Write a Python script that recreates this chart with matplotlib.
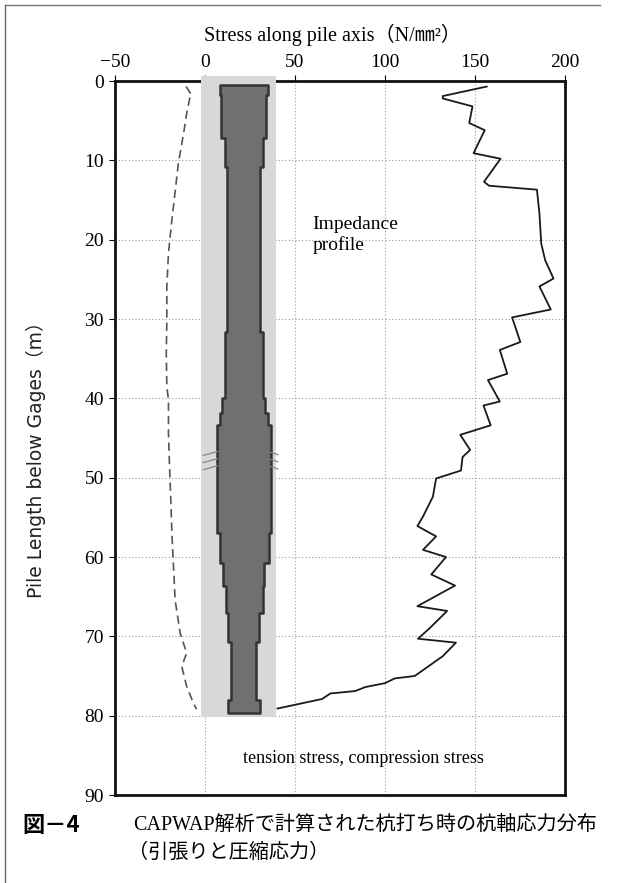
import matplotlib
matplotlib.use("Agg")
import matplotlib.pyplot as plt
from matplotlib.lines import Line2D

plt.rcParams['font.family'] = ['Liberation Serif', 'Noto Sans CJK JP', 'DejaVu Sans']

# ---- data ----
x_ticks = [-50, 0, 50, 100, 150, 200]
y_ticks = [0, 10, 20, 30, 40, 50, 60, 70, 80, 90]

impedance_depth = [0.7, 1.9, 2.2, 3.2, 5.3, 6.2, 9.1, 9.8, 12.7, 13.2, 13.7, 16.7,
                   20.5, 22.6, 24.9, 25.9, 28.8, 29.8, 32.9, 33.9, 36.9, 37.7, 40.4,
                   40.9, 43.4, 44.6, 46.5, 47.4, 49.1, 50.1, 52.4, 54.9, 56.1, 57.4,
                   59.1, 60.0, 62.2, 63.6, 66.2, 66.8, 69.0, 70.3, 70.8, 72.5, 75.0,
                   75.3, 75.9, 76.4, 76.9, 77.2, 77.9, 79.1]
impedance_value = [156.5, 132.1, 132.1, 148.6, 146.8, 155.4, 149.2, 164.2, 155.0, 157.8,
                   184.4, 185.8, 186.8, 189.0, 193.6, 185.8, 192.1, 170.6, 175.2, 163.8,
                   167.9, 157.2, 163.8, 154.7, 158.7, 141.8, 147.3, 143.1, 142.2, 128.4,
                   126.6, 121.1, 118.0, 128.4, 121.1, 133.9, 125.7, 138.9, 118.0, 134.5,
                   124.7, 118.3, 139.4, 132.1, 116.5, 105.5, 100.0, 89.0, 83.4, 69.7,
                   65.0, 40.3]

tension_depth = [0.7, 1.8, 2.0, 4.1, 6.2, 10.4, 17.5, 21.7, 25.9, 30.1, 34.3, 38.5,
                 40.2, 44.4, 48.6, 52.8, 57.0, 61.2, 65.4, 69.6, 72.1, 73.8, 76.3,
                 78.4, 79.2]
tension_stress = [-10.5, -7.4, -8.3, -10.2, -11.6, -14.8, -18.4, -20.3, -21.2, -21.2,
                  -21.5, -21.2, -20.3, -20.3, -19.7, -19.0, -18.4, -17.5, -16.6, -13.8,
                  -10.2, -12.9, -10.2, -6.5, -4.7]

pile_depth = [0.5, 1.8, 7.2, 10.8, 31.6, 40.0, 41.9, 43.4, 57.0, 60.8, 63.6, 67.1,
              70.7, 78.0, 79.7]
pile_left = [8.2, 8.9, 11.0, 12.2, 11.0, 9.6, 8.2, 6.7, 8.2, 10.0, 11.8, 12.8, 14.2, 12.8]
pile_right = [34.8, 33.7, 32.0, 30.6, 32.0, 33.5, 34.8, 36.6, 35.3, 33.0, 32.0, 30.2,
              28.5, 30.6]

band_depth = [-0.6, 80.2]
band_left = -2.0
band_right = 39.5

# ---- figure ----
fig = plt.figure(figsize=(6.17, 8.83), dpi=100)
ax = fig.add_axes([115/617, 1-795/883, 450/617, 714/883])

ax.set_xlim(-50, 200)
ax.set_ylim(90, 0)
ax.set_xticks(x_ticks)
ax.set_yticks(y_ticks)
ax.xaxis.tick_top()
ax.tick_params(axis='both', labelsize=14, length=4, width=0.8, direction='out', pad=4)
ax.tick_params(axis='x', pad=3)

ax.grid(True, color='#9a9a9a', linestyle=(0, (1, 2)), linewidth=0.8)
ax.set_axisbelow(True)
for s in ax.spines.values():
    s.set_linewidth(2.0)
    s.set_color('#111111')

# light band
ax.fill_betweenx(band_depth, band_left, band_right, color='#d8d8d8', lw=0,
                 zorder=3, clip_on=False)

# pile shape
pl = pile_left + [pile_left[-1]]
pr = pile_right + [pile_right[-1]]
ax.fill_betweenx(pile_depth, pl, pr, step='post', facecolor='#707070',
                 edgecolor='#333333', linewidth=1.8, zorder=4)

# small marks at splice
for dy in [-0.6, 0.3, 1.2]:
    ax.plot([-1, 7], [47.8 + dy, 47.3 + dy], color='#888888', lw=0.9, zorder=5)
    ax.plot([36.5, 40.5], [47.4 + dy, 47.7 + dy], color='#888888', lw=0.9, zorder=5)

# tension stress (dashed)
ax.plot(tension_stress, tension_depth, color='#555555', lw=1.2,
        dashes=(5, 3), zorder=5)

# impedance profile
ax.plot(impedance_value, impedance_depth, color='#1a1a1a', lw=1.3, zorder=5)

ax.text(59.6, 19.4, "Impedance\nprofile", fontsize=14, ha='left', va='center',
        linespacing=1.2, zorder=6)
ax.text(88, 85.4, "tension stress, compression stress", fontsize=13,
        ha='center', va='center', zorder=6)

fig.text(333/617, 1-35/883, "Stress along pile axis（N/㎜²）", fontsize=14.5,
         ha='center', va='center')
fig.text(36/617, 1-455/883, "Pile Length below Gages（m）", fontsize=13.5,
         family=['DejaVu Sans', 'Noto Sans CJK JP'], color='#222222',
         ha='center', va='center', rotation=90)

fig.text(22/617, 1-825/883, "図－4", fontsize=16, fontweight='bold',
         family=['Noto Sans CJK JP'], ha='left', va='center')
fig.text(133/617, 1-825/883, "CAPWAP解析で計算された杭打ち時の杭軸応力分布",
         fontsize=14.5, ha='left', va='center')
fig.text(128/617, 1-853/883, "（引張りと圧縮応力）", fontsize=14.5,
         ha='left', va='center')

# outer frame lines
fig.add_artist(Line2D([5/617, 5/617], [0, 1-5/883], transform=fig.transFigure,
                      color='#666666', lw=1.0))
fig.add_artist(Line2D([5/617, 600/617], [1-5/883, 1-5/883], transform=fig.transFigure,
                      color='#777777', lw=1.0))

fig.savefig("out.png", dpi=100)
